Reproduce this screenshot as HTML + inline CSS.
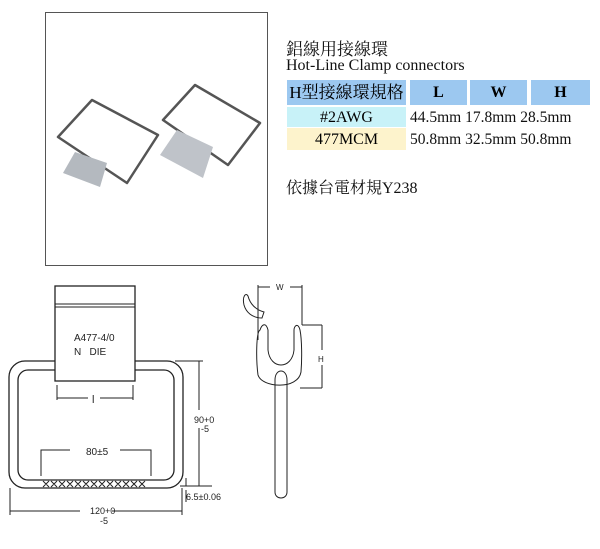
<!DOCTYPE html>
<html><head><meta charset="utf-8"><style>
html,body{margin:0;padding:0;background:#fff;width:600px;height:549px;overflow:hidden}
.t{position:absolute;font-family:"Liberation Serif","Noto Serif CJK SC","Noto Sans CJK TC",serif;color:#111;white-space:nowrap}
.c{position:absolute;font-family:"Liberation Serif","Noto Serif CJK SC",serif;font-size:16px;text-align:center;line-height:21px}
</style></head><body>
<div style="position:absolute;left:45px;top:12px;width:221px;height:252px;border:1px solid #555"></div>
<svg style="position:absolute;left:0;top:0" width="600" height="549">
 <!-- photo clamps -->
 <path d="M58 137 L92 100 L158 135 L127 183 Z" fill="none" stroke="#555" stroke-width="2.5" stroke-linejoin="round"/>
 <path d="M163 120 L195 85 L260 123 L228 165 Z" fill="none" stroke="#555" stroke-width="2.5" stroke-linejoin="round"/>
 <path d="M75 152 L107 163 L100 187 L63 173 Z" fill="#b4b9bf"/>
 <path d="M177 130 L213 147 L203 178 L160 155 Z" fill="#bfc3c9"/>
 <!-- table -->
 <rect x="287" y="80" width="119" height="25" fill="#9cc8f0"/>
 <rect x="410" y="80" width="57" height="25" fill="#9cc8f0"/>
 <rect x="470" y="80" width="57" height="25" fill="#9cc8f0"/>
 <rect x="531" y="80" width="59" height="25" fill="#9cc8f0"/>
 <rect x="287" y="107" width="119" height="20" fill="#c8f2f8"/>
 <rect x="287" y="128" width="119" height="22" fill="#fdf3cc"/>
 <!-- front drawing -->
 <g fill="none" stroke="#222" stroke-width="1.3">
  <rect x="9" y="361" width="174" height="127" rx="16"/>
  <rect x="18" y="370" width="156" height="110" rx="10"/>
 </g>
 <rect x="55" y="286" width="80" height="95" fill="#fff" stroke="#222" stroke-width="1.3"/>
 <line x1="55" y1="304" x2="135" y2="304" stroke="#222"/>
 <line x1="55" y1="307" x2="135" y2="307" stroke="#222"/>
 <g stroke="#222" stroke-width="1" fill="none">
  <path d="M57 385 V400 M133 385 V400 M57 398 H88 M100 398 H133"/>
  <path d="M41 476 V450 H70 M120 450 H151 V476"/>
  <path d="M43 481 l6 6 m0 -6 l-6 6 M51 481 l6 6 m0 -6 l-6 6 M59 481 l6 6 m0 -6 l-6 6 M67 481 l6 6 m0 -6 l-6 6 M75 481 l6 6 m0 -6 l-6 6 M83 481 l6 6 m0 -6 l-6 6 M91 481 l6 6 m0 -6 l-6 6 M99 481 l6 6 m0 -6 l-6 6 M107 481 l6 6 m0 -6 l-6 6 M115 481 l6 6 m0 -6 l-6 6 M123 481 l6 6 m0 -6 l-6 6 M131 481 l6 6 m0 -6 l-6 6 M139 481 l6 6 m0 -6 l-6 6"/>
  <path d="M175 361 H203 M180 486 H212 M199 361 V410 M199 428 V486"/>
  <path d="M10 488 V515 M182 488 V515 M10 511 H80 M112 511 H182"/>
  <path d="M186 478 V486 M186 490 V502"/>
  <!-- side view -->
  <path d="M258 285 V340 M302 285 V325 M258 287 H270 M290 287 H302"/>
  <path d="M302 325 H322 M300 388 H322 M322 325 V350 M322 365 V388"/>
  <path d="M260 330 C256 332 256 360 258 375 C262 388 298 390 301 372 C302 360 302 340 300 330 C298 322 294 326 294 330 L294 350 C292 370 270 370 268 350 L268 330 C266 322 262 324 260 330 Z"/>
  <path d="M275 380 C275 368 287 368 287 380 V492 C287 500 275 500 275 492 Z"/>
  <path d="M244 305 C242 296 246 292 248 296 C250 304 256 310 264 312 L262 318 C252 318 246 312 244 305 Z"/>
 </g>
 <g font-family="Liberation Sans,sans-serif" fill="#222">
  <text x="74" y="341" font-size="10">A477-4/0</text>
  <text x="74" y="355" font-size="10">N&#160;&#160;&#160;DIE</text>
  <text x="92" y="403" font-size="11">l</text>
  <text x="86" y="455" font-size="10">80±5</text>
  <text x="194" y="423" font-size="9">90+0</text>
  <text x="201" y="432" font-size="9">-5</text>
  <text x="186" y="500" font-size="9">6.5±0.06</text>
  <text x="90" y="514" font-size="9">120+0</text>
  <text x="100" y="524" font-size="9">-5</text>
  <text x="276" y="290" font-size="8">W</text>
  <text x="318" y="362" font-size="8">H</text>
 </g>
</svg>
<div class="t" style="left:286px;top:35px;font-size:17px">鋁線用接線環</div>
<div class="t" style="left:286px;top:57px;font-size:16px">Hot-Line Clamp connectors</div>
<div class="c" style="left:287px;top:82px;width:119px;font-size:17px">H型接線環規格</div>
<div class="c" style="left:410px;top:82px;width:57px;font-weight:bold">L</div>
<div class="c" style="left:470px;top:82px;width:57px;font-weight:bold">W</div>
<div class="c" style="left:531px;top:82px;width:59px;font-weight:bold">H</div>
<div class="c" style="left:287px;top:107px;width:119px">#2AWG</div>
<div class="c" style="left:287px;top:129px;width:119px">477MCM</div>
<div class="t" style="left:410px;top:107px;font-size:15.5px;line-height:21px">44.5mm 17.8mm 28.5mm</div>
<div class="t" style="left:410px;top:129px;font-size:15.5px;line-height:21px">50.8mm 32.5mm 50.8mm</div>
<div class="t" style="left:286px;top:175px;font-size:16px">依據台電材規Y238</div>
</body></html>
